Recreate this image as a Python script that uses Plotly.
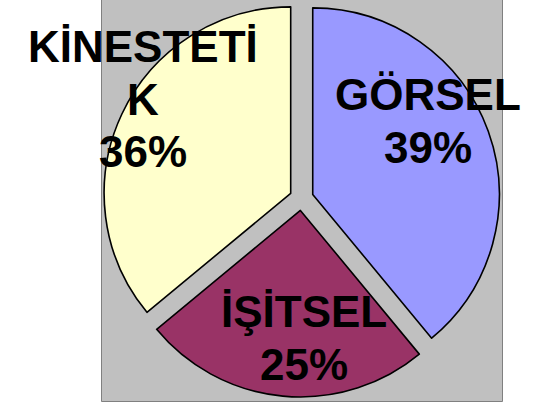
import plotly.graph_objects as go

# ---- data ----
labels = ["GÖRSEL", "İŞİTSEL", "KİNESTETİK"]
values = [39, 25, 36]
label_lines = [["GÖRSEL"], ["İŞİTSEL"], ["KİNESTETİ", "K"]]
colors = ["#9999FF", "#993366", "#FFFFCC"]

W, H = 533, 406

def px(x):
    return x / W

def py(y):
    return 1 - y / H

total = sum(values)
pcts = [f"{round(v / total * 100)}%" for v in values]

fig = go.Figure()
fig.add_trace(go.Pie(
    labels=labels,
    values=values,
    sort=False,
    direction="clockwise",
    rotation=0,
    pull=[0.064] * len(values),
    marker=dict(colors=colors, line=dict(color="#000000", width=1.6)),
    textinfo="none",
    hoverinfo="label+percent",
    showlegend=False,
    domain=dict(x=[px(103), px(500)], y=[py(397), py(0)]),
))

# label text blocks: (centre x, first baseline) per slice, line spacing 52.5px
label_pos = [(428, 110), (304, 327), (143, 62)]
fs = 44
line_gap = 52.5
annotations = []
for lines, pct, (cx, base) in zip(label_lines, pcts, label_pos):
    all_lines = lines + [pct]
    for k, t in enumerate(all_lines):
        b = base + k * line_gap
        annotations.append(dict(
            text=t, x=px(cx), y=py(b - 0.3465 * fs), xref="paper", yref="paper",
            xanchor="center", yanchor="middle", showarrow=False,
            font=dict(family="Liberation Sans, Arial, sans-serif", size=fs,
                      color="#000000", weight="bold"),
        ))

fig.update_layout(
    width=W, height=H,
    margin=dict(l=0, r=0, t=0, b=0),
    paper_bgcolor="#FFFFFF",
    shapes=[dict(type="rect", xref="paper", yref="paper",
                 x0=px(101.5), x1=px(502.5), y0=py(401.5), y1=py(-1),
                 fillcolor="#C0C0C0", line=dict(color="#808080", width=1),
                 layer="below")],
    annotations=annotations,
)

fig.write_html("out.html", config={"displayModeBar": False},
               post_script="document.body.style.margin='0';")
